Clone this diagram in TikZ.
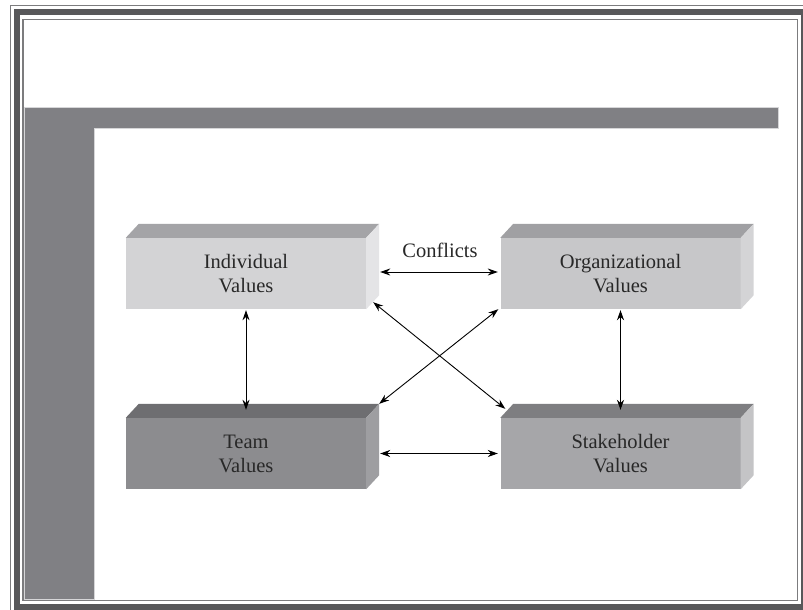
\documentclass[tikz,border=0pt]{standalone}
\usepackage{fontspec}
\setmainfont{Liberation Serif}
\usetikzlibrary{calc,arrows.meta}
\definecolor{framedark}{RGB}{88,88,90}
\definecolor{frameline}{RGB}{124,124,126}
\definecolor{bargray}{RGB}{128,128,132}
\definecolor{baredge}{RGB}{214,214,216}
\definecolor{txt}{RGB}{40,40,40}
\definecolor{indF}{RGB}{211,211,213}\definecolor{indT}{RGB}{164,164,167}\definecolor{indR}{RGB}{228,228,230}
\definecolor{orgF}{RGB}{199,199,201}\definecolor{orgT}{RGB}{160,160,163}\definecolor{orgR}{RGB}{212,212,214}
\definecolor{teaF}{RGB}{140,140,143}\definecolor{teaT}{RGB}{110,110,113}\definecolor{teaR}{RGB}{158,158,161}
\definecolor{staF}{RGB}{166,166,169}\definecolor{staT}{RGB}{126,126,129}\definecolor{staR}{RGB}{196,196,198}
\tikzset{
  frontface/.style={minimum width=240pt,minimum height=71pt,inner sep=0pt,align=center,
    text=txt,font=\fontsize{20.5}{24}\selectfont},
  link/.style={draw=black,line width=0.9pt,{Stealth[length=10pt,width=7pt]}-{Stealth[length=10pt,width=7pt]}},
  lbl/.style={text=txt,font=\fontsize{20.5}{24}\selectfont,inner sep=0pt}
}
\newcommand{\boxfaces}[3]{%
  \fill[#2] (#1.north west) -- ++(13,-14) -- ($(#1.north east)+(13,-14)$) -- (#1.north east) -- cycle;
  \fill[#3] (#1.north east) -- ++(13,-14) -- ($(#1.south east)+(13,-14)$) -- (#1.south east) -- cycle;
}
\begin{document}
\begin{tikzpicture}[x=1pt,y=-1pt]
\useasboundingbox (0,0) rectangle (803,610);
\begin{scope}
\clip (0,0) rectangle (803,610);
\fill[white] (0,0) rectangle (803,610);
% frame
\draw[frameline,line width=1.3pt] (10.5,5.5) rectangle (830,630);
\draw[framedark,line width=6pt] (17,12) rectangle (803.5,607);
\draw[frameline,line width=1.5pt] (23,19.5) rectangle (797.5,600.5);
% L bar
\draw[baredge,fill=bargray,line width=0.8pt] (24,107) -- (778,107) -- (778,128) -- (94,128) -- (94,599) -- (24,599) -- cycle;
\end{scope}
% boxes
\node[frontface,fill=indF] (ind) at (246,273.5) {Individual\\Values};
\node[frontface,fill=orgF] (org) at (620.5,273.5) {Organizational\\Values};
\node[frontface,fill=teaF] (tea) at (246,453.5) {Team\\Values};
\node[frontface,fill=staF] (sta) at (620.5,453.5) {Stakeholder\\Values};
\boxfaces{ind}{indT}{indR}
\boxfaces{org}{orgT}{orgR}
\boxfaces{tea}{teaT}{teaR}
\boxfaces{sta}{staT}{staR}
\node[lbl] (conf) at (440,250) {Conflicts};
% connectors
\draw[link] ($(ind.east)+(14,-1.5)$) -- ($(org.west)+(-2.5,-1.5)$);
\draw[link] ($(tea.east)+(14,0)$) -- ($(sta.west)+(-2.5,0)$);
\draw[link] ($(ind.south)+(0,1)$) -- ($(tea.north)+(0,-8)$);
\draw[link] ($(org.south)+(0,1)$) -- ($(sta.north)+(0,-8)$);
\draw[link] ($(ind.south east)+(7,-7)$) -- ($(sta.north west)+(5,-9)$);
\draw[link] ($(org.south west)+(-2,0)$) -- ($(tea.north east)+(13,-14)$);
\end{tikzpicture}
\end{document}
